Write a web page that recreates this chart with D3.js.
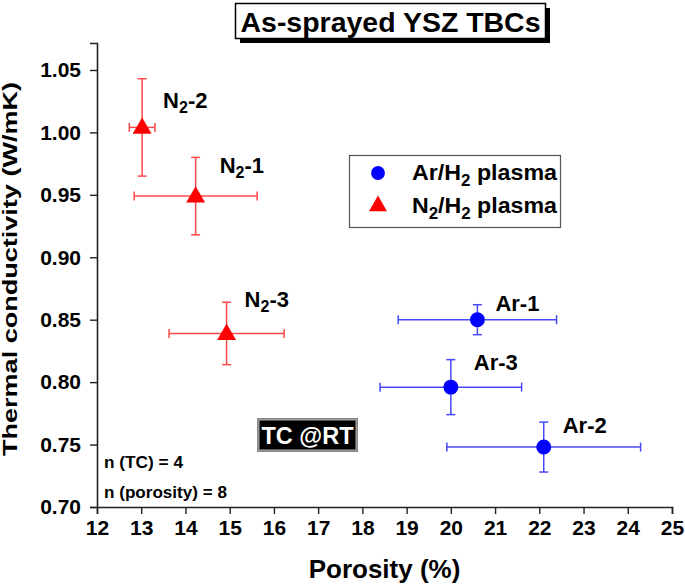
<!DOCTYPE html>
<html><head><meta charset="utf-8">
<script src="https://cdn.jsdelivr.net/npm/d3@7"></script>
<style>body{margin:0;background:#fff}svg{display:block;font-family:"Liberation Sans",Arial,sans-serif;font-weight:bold}</style>
</head><body><svg id="c" width="685" height="584"></svg>
<script>
// ---- data ----
const xTicks = [12,13,14,15,16,17,18,19,20,21,22,23,24,25];
const yTicks = [0.70,0.75,0.80,0.85,0.90,0.95,1.00,1.05];
const n2Names = ["N2-1","N2-2","N2-3"];
const n2Porosity = [14.23, 13.02, 14.93];
const n2PorosityErr = [1.39, 0.29, 1.30];
const n2TC = [0.949, 1.004, 0.839];
const n2TCErr = [0.031, 0.039, 0.025];
const arNames = ["Ar-1","Ar-2","Ar-3"];
const arPorosity = [20.6, 22.1, 20.0];
const arPorosityErr = [1.79, 2.19, 1.60];
const arTC = [0.850, 0.748, 0.796];
const arTCErr = [0.012, 0.020, 0.022];
const legendLabels = [["Ar/H","2"," plasma"],["N","2","/H","2"," plasma"]];
const titleText = "As-sprayed YSZ TBCs";
const xTitle = "Porosity (%)";
const yTitle = "Thermal conductivity (W/mK)";
const noteTC = "n (TC) = 4";
const notePor = "n (porosity) = 8";
const badge = "TC @RT";

// ---- layout ----
const svg = d3.select("#c");
const x = d3.scaleLinear().domain([12,25]).range([97,672]);
const y = d3.scaleLinear().domain([0.70,1.0716]).range([507,43]);
const labelOff = {"N2-1":[24,-23],"N2-2":[21,-19],"N2-3":[18,-26],"Ar-1":[18,-9],"Ar-2":[19,-14],"Ar-3":[23,-17]};

// axes
const minorX = d3.range(12.5,25,1);
const minorY = d3.range(0.725,1.05,0.05);
const gx = svg.append("g").attr("transform","translate(0,507)");
gx.call(d3.axisBottom(x).tickValues(minorX).tickSize(4).tickFormat(""));
gx.call(d3.axisBottom(x).tickValues(xTicks).tickSize(7).tickPadding(6).tickFormat(d3.format("d")));
const gy = svg.append("g").attr("transform","translate(97,0)");
gy.call(d3.axisLeft(y).tickValues(minorY).tickSize(4).tickFormat(""));
gy.call(d3.axisLeft(y).tickValues(yTicks).tickSize(7).tickPadding(9).tickFormat(d3.format(".2f")));
svg.selectAll(".domain").attr("stroke","#222").attr("stroke-width",1.6);
svg.selectAll(".tick line").attr("stroke","#222").attr("stroke-width",1.4);
svg.selectAll(".tick text").attr("font-size",21).attr("font-weight","bold").attr("fill","#000").attr("font-family","Liberation Sans, Arial, sans-serif");

// axis titles
svg.append("text").attr("x",(x(12)+x(25))/2).attr("y",578).attr("text-anchor","middle")
  .attr("font-size",26).text(xTitle);
svg.append("text").attr("transform","translate(17,269) rotate(-90)").attr("text-anchor","middle")
  .attr("font-size",20).attr("textLength",374).attr("lengthAdjust","spacingAndGlyphs").text(yTitle);

// series drawing
function drawSeries(names, xs, xe, ys, ye, color, errColor, shape){
  const data = names.map((n,i)=>({n, x:xs[i], xe:xe[i], y:ys[i], ye:ye[i]}));
  const g = svg.append("g");
  const cap = 4.5;
  data.forEach(d=>{
    const e = g.append("g").attr("stroke",errColor).attr("stroke-width",1.5);
    e.append("line").attr("x1",x(d.x-d.xe)).attr("x2",x(d.x+d.xe)).attr("y1",y(d.y)).attr("y2",y(d.y));
    e.append("line").attr("x1",x(d.x-d.xe)).attr("x2",x(d.x-d.xe)).attr("y1",y(d.y)-cap).attr("y2",y(d.y)+cap);
    e.append("line").attr("x1",x(d.x+d.xe)).attr("x2",x(d.x+d.xe)).attr("y1",y(d.y)-cap).attr("y2",y(d.y)+cap);
    e.append("line").attr("x1",x(d.x)).attr("x2",x(d.x)).attr("y1",y(d.y-d.ye)).attr("y2",y(d.y+d.ye));
    e.append("line").attr("x1",x(d.x)-cap).attr("x2",x(d.x)+cap).attr("y1",y(d.y-d.ye)).attr("y2",y(d.y-d.ye));
    e.append("line").attr("x1",x(d.x)-cap).attr("x2",x(d.x)+cap).attr("y1",y(d.y+d.ye)).attr("y2",y(d.y+d.ye));
  });
  g.selectAll("path.m").data(data).join("path").attr("class","m")
    .attr("d",d3.symbol().type(shape).size(shape===d3.symbolTriangle?155:175))
    .attr("transform",d=>`translate(${x(d.x)},${y(d.y)+(shape===d3.symbolTriangle?1:0)})`)
    .attr("fill",color);
  data.forEach(d=>{
    const o = labelOff[d.n];
    const t = g.append("text").attr("x",x(d.x)+o[0]).attr("y",y(d.y)+o[1]).attr("font-size",22).attr("fill","#000");
    if(d.n.startsWith("N2")){
      t.append("tspan").text("N");
      t.append("tspan").attr("font-size",16).attr("dy",5).text("2");
      t.append("tspan").attr("dy",-5).text("-"+d.n.slice(3));
    } else t.text(d.n);
  });
}
drawSeries(arNames, arPorosity, arPorosityErr, arTC, arTCErr, "#0000ff", "#4848ff", d3.symbolCircle);
drawSeries(n2Names, n2Porosity, n2PorosityErr, n2TC, n2TCErr, "#ff0000", "#ff4848", d3.symbolTriangle);

// legend
const lg = svg.append("g");
lg.append("rect").attr("x",349.5).attr("y",155.5).attr("width",211).attr("height",72).attr("fill","#fff").attr("stroke","#555").attr("stroke-width",1.2);
lg.append("path").attr("d",d3.symbol().type(d3.symbolCircle).size(150)).attr("transform","translate(378,173)").attr("fill","#0000ff");
lg.append("path").attr("d",d3.symbol().type(d3.symbolTriangle).size(140)).attr("transform","translate(378,206)").attr("fill","#ff0000");
legendLabels.forEach((parts,i)=>{
  const t = lg.append("text").attr("x",412).attr("y",180+i*33).attr("font-size",22).attr("textLength",i===0?145:145).attr("lengthAdjust","spacingAndGlyphs");
  let sub=false;
  parts.forEach((p,j)=>{
    const isSub = p==="2";
    const ts = t.append("tspan").text(p);
    if(isSub){ ts.attr("font-size",16).attr("dy",6); sub=true; }
    else if(sub){ ts.attr("dy",-6); sub=false; }
  });
});

// title box
svg.append("rect").attr("x",240).attr("y",8).attr("width",310).attr("height",35).attr("fill","#000");
svg.append("rect").attr("x",235.5).attr("y",3.5).attr("width",310).attr("height",35).attr("fill","#fff").attr("stroke","#000").attr("stroke-width",1.5);
svg.append("text").attr("x",390.5).attr("y",32).attr("text-anchor","middle").attr("font-size",28).attr("textLength",300).attr("lengthAdjust","spacingAndGlyphs").text(titleText);

// badge
svg.append("rect").attr("x",257).attr("y",418).attr("width",101).attr("height",34).attr("fill","#888");
svg.append("rect").attr("x",259).attr("y",420).attr("width",97).attr("height",30).attr("fill","#000").attr("stroke","#aaa").attr("stroke-width",1);
svg.append("text").attr("x",307.5).attr("y",444).attr("text-anchor","middle").attr("font-size",24).attr("textLength",92).attr("lengthAdjust","spacingAndGlyphs").attr("fill","#fff").text(badge);

// notes
svg.append("text").attr("x",104).attr("y",468).attr("font-size",16).attr("textLength",79).attr("lengthAdjust","spacingAndGlyphs").text(noteTC);
svg.append("text").attr("x",104).attr("y",498).attr("font-size",16).attr("textLength",123).attr("lengthAdjust","spacingAndGlyphs").text(notePor);
</script></body></html>
